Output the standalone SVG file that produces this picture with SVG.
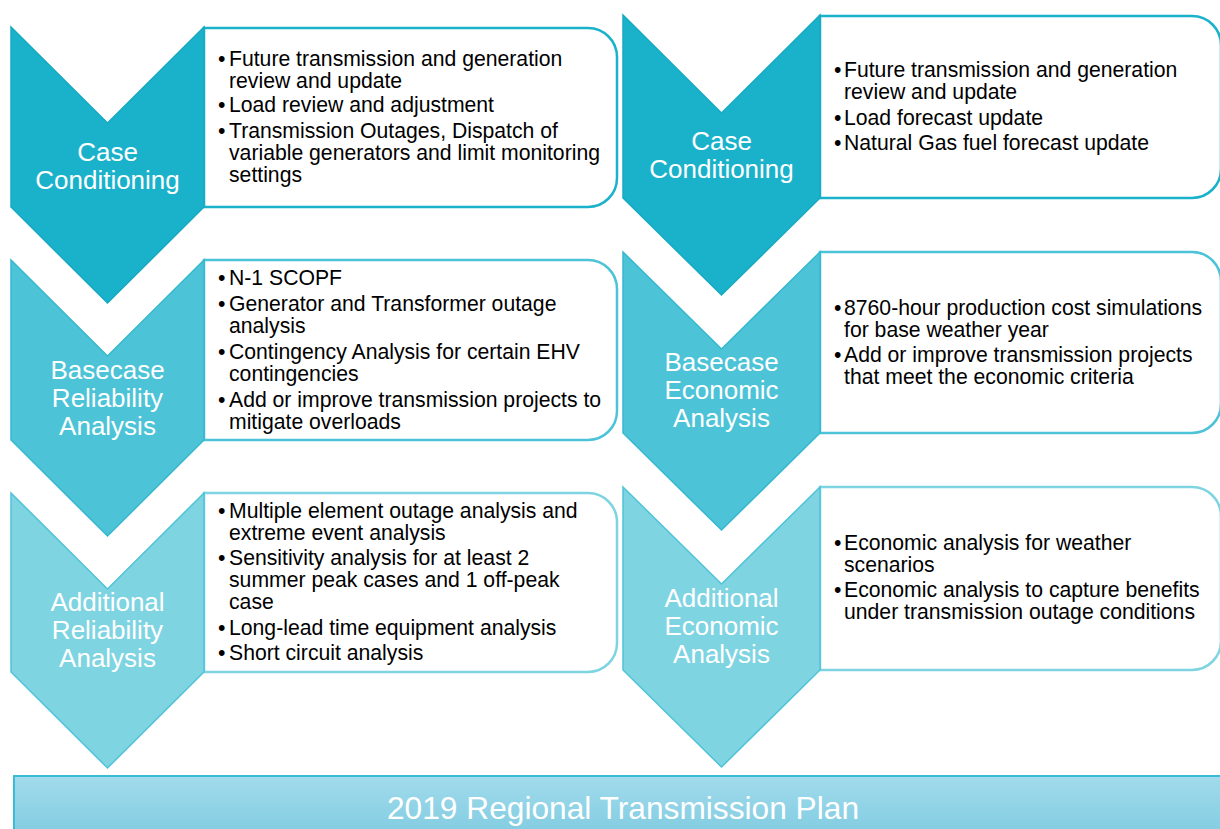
<svg xmlns="http://www.w3.org/2000/svg" width="1220" height="829" viewBox="0 0 1220 829">
<defs>
<linearGradient id="bannerGrad" x1="0" y1="0" x2="0" y2="1">
<stop offset="0" stop-color="#a2dbec"/>
<stop offset="1" stop-color="#7bc9df"/>
</linearGradient>
<style>
.c1{fill:#1ab2cb;stroke:#17a9c2;stroke-width:1.5}
.c2{fill:#4cc3d7;stroke:#36b8cf;stroke-width:1.5}
.c3{fill:#7fd4e2;stroke:#4fc3d8;stroke-width:1.5}
.b1{fill:#fff;stroke:#1ab2cb;stroke-width:2.5}
.b2{fill:#fff;stroke:#4cc3d7;stroke-width:2.5}
.b3{fill:#fff;stroke:#7fd4e2;stroke-width:2.5}
.lbl{font-family:"Liberation Sans",Arial,sans-serif;font-size:26px;fill:#fff;text-anchor:middle}
.txt{font-family:"Liberation Sans",Arial,sans-serif;font-size:21.2px;fill:#000}
.ban{font-family:"Liberation Sans",Arial,sans-serif;font-size:31.7px;fill:#fff;text-anchor:middle}
</style>
</defs>
<rect width="1220" height="829" fill="#fff"/>

<g id="connectors"/>

<!-- Left column -->
<g id="left-case-conditioning">
<path class="b1" d="M204,28 H588 A29,29 0 0 1 617,57 V178 A29,29 0 0 1 588,207 H204 Z"/>
<path class="c1" d="M11,27 L107.5,123 L204,27 V207 L107.5,303 L11,207 Z"/>
<text class="lbl"><tspan x="107.5" y="161">Case</tspan><tspan x="107.5" y="189">Conditioning</tspan></text>
<text class="txt"><tspan x="218" y="66">•</tspan><tspan x="229" y="66">Future transmission and generation</tspan><tspan x="229" y="88">review and update</tspan><tspan x="218" y="112">•</tspan><tspan x="229" y="112">Load review and adjustment</tspan><tspan x="218" y="138">•</tspan><tspan x="229" y="138">Transmission Outages, Dispatch of</tspan><tspan x="229" y="160">variable generators and limit monitoring</tspan><tspan x="229" y="182">settings</tspan></text>
</g>

<g id="left-basecase-reliability">
<path class="b2" d="M204,260 H588 A29,29 0 0 1 617,289 V411 A29,29 0 0 1 588,440 H204 Z"/>
<path class="c2" d="M11,260 L107.5,356 L204,260 V440 L107.5,536 L11,440 Z"/>
<text class="lbl"><tspan x="107.5" y="379">Basecase</tspan><tspan x="107.5" y="407">Reliability</tspan><tspan x="107.5" y="435">Analysis</tspan></text>
<text class="txt"><tspan x="218" y="285">•</tspan><tspan x="229" y="285">N-1 SCOPF</tspan><tspan x="218" y="311">•</tspan><tspan x="229" y="311">Generator and Transformer outage</tspan><tspan x="229" y="333">analysis</tspan><tspan x="218" y="359">•</tspan><tspan x="229" y="359">Contingency Analysis for certain EHV</tspan><tspan x="229" y="381">contingencies</tspan><tspan x="218" y="407">•</tspan><tspan x="229" y="407">Add or improve transmission projects to</tspan><tspan x="229" y="429">mitigate overloads</tspan></text>
</g>

<g id="left-additional-reliability">
<path class="b3" d="M204,493 H588 A29,29 0 0 1 617,522 V643 A29,29 0 0 1 588,672 H204 Z"/>
<path class="c3" d="M11,493 L107.5,589 L204,493 V672 L107.5,768 L11,672 Z"/>
<text class="lbl"><tspan x="107.5" y="611">Additional</tspan><tspan x="107.5" y="639">Reliability</tspan><tspan x="107.5" y="667">Analysis</tspan></text>
<text class="txt"><tspan x="218" y="518">•</tspan><tspan x="229" y="518">Multiple element outage analysis and</tspan><tspan x="229" y="540">extreme event analysis</tspan><tspan x="218" y="565">•</tspan><tspan x="229" y="565">Sensitivity analysis for at least 2</tspan><tspan x="229" y="587">summer peak cases and 1 off-peak</tspan><tspan x="229" y="609">case</tspan><tspan x="218" y="635">•</tspan><tspan x="229" y="635">Long-lead time equipment analysis</tspan><tspan x="218" y="660">•</tspan><tspan x="229" y="660">Short circuit analysis</tspan></text>
</g>

<!-- Right column -->
<g id="right-case-conditioning">
<path class="b1" d="M820,16 H1192 A29,29 0 0 1 1221,45 V169 A29,29 0 0 1 1192,198 H820 Z"/>
<path class="c1" d="M623,15 L721.5,113 L820,15 V198 L721.5,295 L623,198 Z"/>
<text class="lbl"><tspan x="721.5" y="150">Case</tspan><tspan x="721.5" y="178">Conditioning</tspan></text>
<text class="txt"><tspan x="834" y="77">•</tspan><tspan x="844" y="77">Future transmission and generation</tspan><tspan x="844" y="99">review and update</tspan><tspan x="834" y="125">•</tspan><tspan x="844" y="125">Load forecast update</tspan><tspan x="834" y="150">•</tspan><tspan x="844" y="150">Natural Gas fuel forecast update</tspan></text>
</g>

<g id="right-basecase-economic">
<path class="b2" d="M820,252 H1192 A29,29 0 0 1 1221,281 V404 A29,29 0 0 1 1192,433 H820 Z"/>
<path class="c2" d="M623,252 L721.5,349 L820,252 V433 L721.5,530 L623,433 Z"/>
<text class="lbl"><tspan x="721.5" y="371">Basecase</tspan><tspan x="721.5" y="399">Economic</tspan><tspan x="721.5" y="427">Analysis</tspan></text>
<text class="txt"><tspan x="834" y="315">•</tspan><tspan x="844" y="315">8760-hour production cost simulations</tspan><tspan x="844" y="337">for base weather year</tspan><tspan x="834" y="362">•</tspan><tspan x="844" y="362">Add or improve transmission projects</tspan><tspan x="844" y="384">that meet the economic criteria</tspan></text>
</g>

<g id="right-additional-economic">
<path class="b3" d="M820,487 H1192 A29,29 0 0 1 1221,516 V641 A29,29 0 0 1 1192,670 H820 Z"/>
<path class="c3" d="M623,487 L721.5,584 L820,487 V670 L721.5,767 L623,670 Z"/>
<text class="lbl"><tspan x="721.5" y="607">Additional</tspan><tspan x="721.5" y="635">Economic</tspan><tspan x="721.5" y="663">Analysis</tspan></text>
<text class="txt"><tspan x="834" y="550">•</tspan><tspan x="844" y="550">Economic analysis for weather</tspan><tspan x="844" y="572">scenarios</tspan><tspan x="834" y="597">•</tspan><tspan x="844" y="597">Economic analysis to capture benefits</tspan><tspan x="844" y="619">under transmission outage conditions</tspan></text>
</g>

<g id="banner">
<rect x="14" y="776" width="1220" height="70" fill="url(#bannerGrad)" stroke="#3bbcd5" stroke-width="2"/>
<text class="ban" x="623" y="819">2019 Regional Transmission Plan</text>
</g>
</svg>
